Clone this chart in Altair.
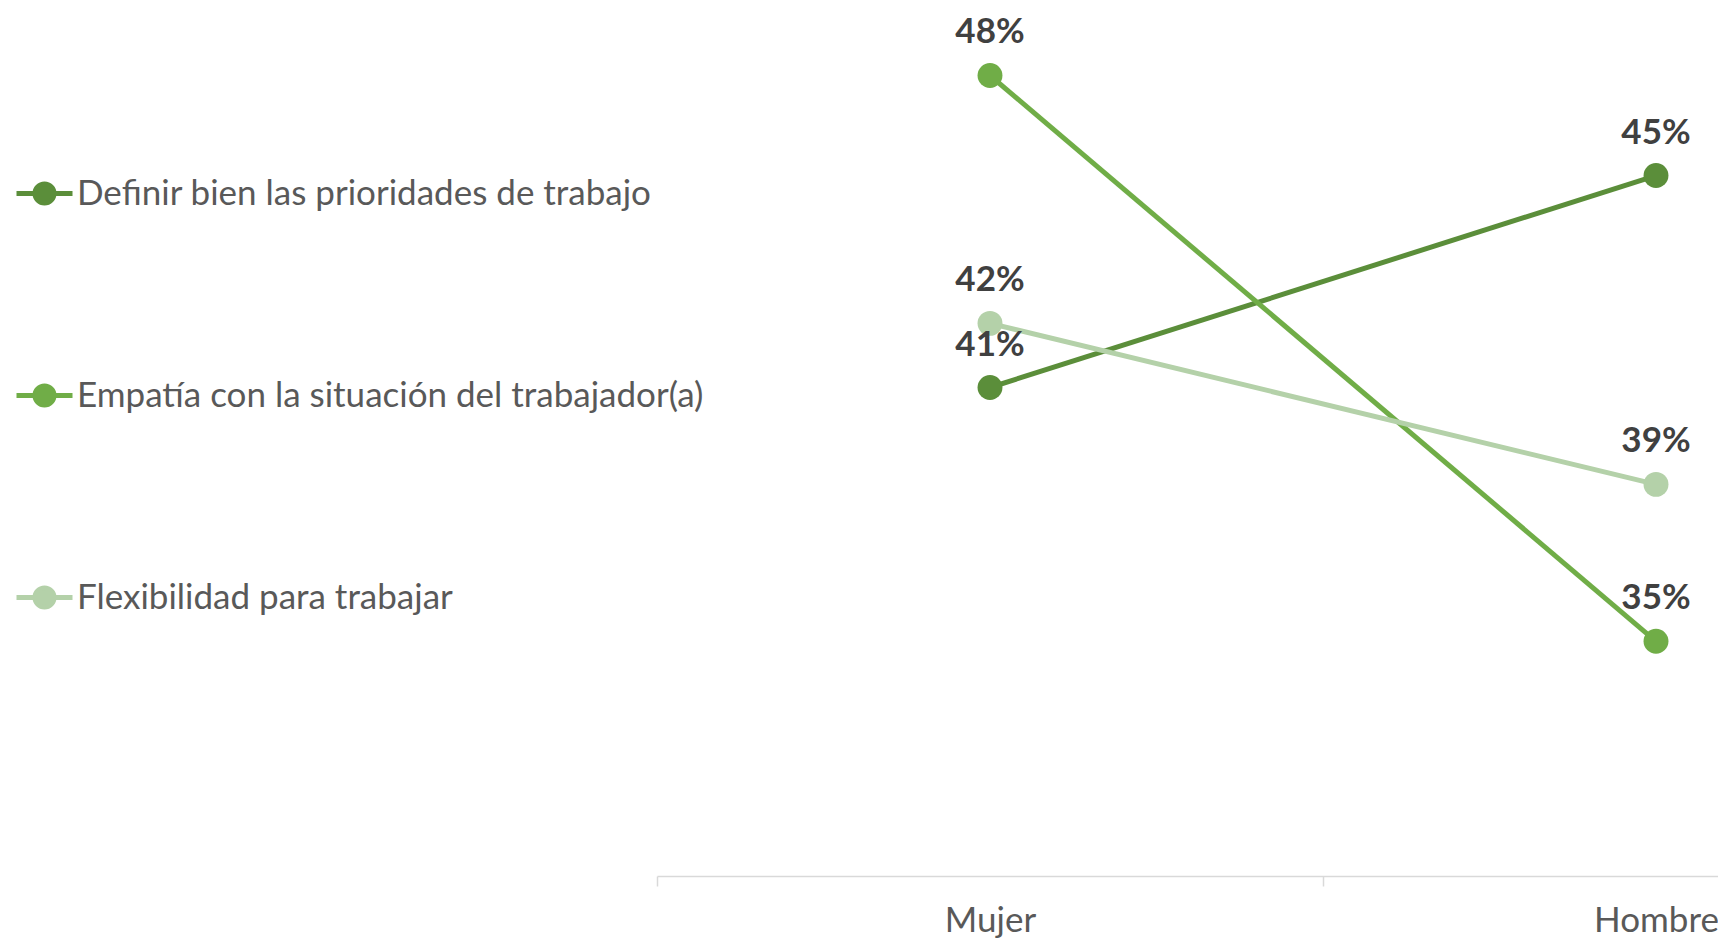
import altair as alt
import pandas as pd

categories = ["Mujer", "Hombre"]
series = [
    "Definir bien las prioridades de trabajo",
    "Empatía con la situación del trabajador(a)",
    "Flexibilidad para trabajar",
]
definir = [0.4074, 0.454]
empatia = [0.476, 0.3516]
flexibilidad = [0.4215, 0.3861]
colors = ["#5B8E3A", "#70AD47", "#B4D1A9"]

rows = []
for name, vals in zip(series, [definir, empatia, flexibilidad]):
    for cat, v in zip(categories, vals):
        rows.append({"serie": name, "sexo": cat, "valor": v})
df = pd.DataFrame(rows)

FONT = "Lato"
sym_path = "M-1,0H1M0.34,0A0.34,0.34,0,1,1,-0.34,0A0.34,0.34,0,1,1,0.34,0Z"

legend = alt.Legend(
    title=None,
    orient="none",
    legendX=-643,
    legendY=133,
    direction="vertical",
    symbolType=sym_path,
    symbolSize=3136,
    symbolStrokeWidth=5,
    labelFont=FONT,
    labelFontSize=35,
    labelColor="#595959",
    labelOffset=2,
    labelLimit=1000,
    rowPadding=151,
    padding=0,
)

x = alt.X(
    "sexo:N",
    sort=categories,
    scale=alt.Scale(type="band", paddingInner=0, paddingOuter=0, range=[0, 1332]),
    axis=alt.Axis(
        title=None,
        labelAngle=0,
        tickBand="extent",
        domainColor="#D9D9D9",
        domainWidth=1.5,
        tickColor="#D9D9D9",
        tickWidth=1.5,
        tickSize=10,
        labelFont=FONT,
        labelFontSize=35,
        labelColor="#595959",
        labelPadding=17,
        grid=False,
    ),
)
y = alt.Y(
    "valor:Q",
    scale=alt.Scale(domain=[0.30, 0.486], nice=False, zero=False),
    axis=None,
)

color_scale = alt.Scale(domain=series, range=colors)

lines = alt.Chart(df).mark_line(strokeWidth=5).encode(
    x=x,
    y=y,
    stroke=alt.Stroke("serie:N", scale=color_scale, sort=series, legend=legend),
    detail="serie:N",
)
points = alt.Chart(df).mark_point(filled=True, size=620, opacity=1).encode(
    x=x,
    y=y,
    fill=alt.Fill("serie:N", scale=color_scale, sort=series, legend=legend),
)
labels = alt.Chart(df).mark_text(
    dy=-32,
    baseline="alphabetic",
    align="center",
    font=FONT,
    fontSize=35,
    fontWeight="bold",
    color="#404040",
).encode(
    x=x,
    y=y,
    text=alt.Text("valor:Q", format=".0%"),
)

chart = (
    alt.layer(lines, points, labels)
    .properties(
        width=1061,
        height=846,
        background="white",
        autosize=alt.AutoSizeParams(type="none"),
        padding={"left": 649, "top": 22, "right": 0, "bottom": 66},
    )
    .configure_view(strokeWidth=0, stroke="transparent")
)

chart.save("out.html", embed_options={"renderer": "svg", "actions": False})
